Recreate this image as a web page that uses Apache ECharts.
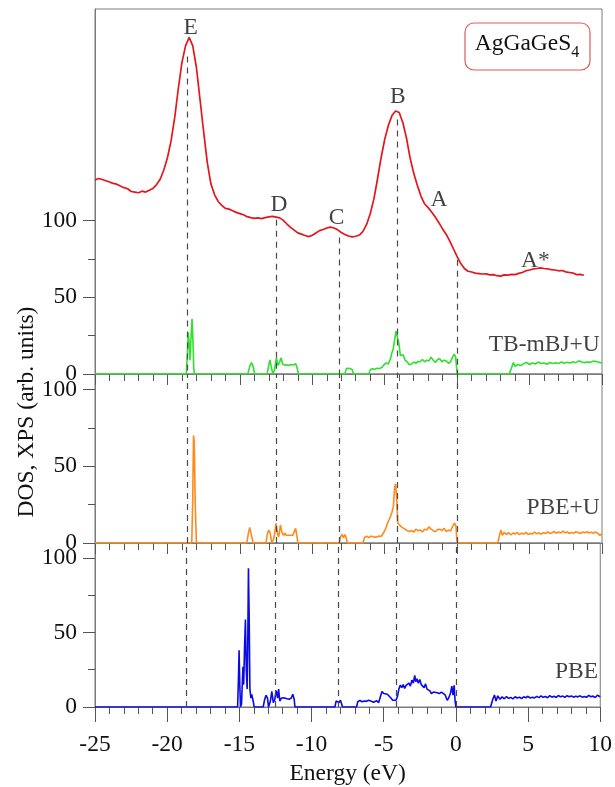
<!DOCTYPE html>
<html>
<head>
<meta charset="utf-8">
<title>AgGaGeS4 DOS and XPS</title>
<script src="https://cdn.jsdelivr.net/npm/echarts@6.0.0/dist/echarts.min.js"></script>
<style>
  html, body { margin: 0; padding: 0; background: #ffffff; }
  #chart { width: 615px; height: 787px; }
</style>
</head>
<body>
<div id="chart"></div>
<script>
// ---- Data ----------------------------------------------------------------
// Experimental XPS spectrum, [energy eV, intensity]
var xps = [
  [-25,126.5],[-24.75,127.5],[-24.5,126.8],[-24.25,126],[-24,125.2],[-23.75,124.3],[-23.5,123.8],[-23.25,122.6],
  [-23,121.5],[-22.75,120.8],[-22.5,119],[-22.25,118.6],[-22,118.2],[-21.75,119.2],[-21.5,118.6],[-21.25,119.8],
  [-21,121],[-20.75,123.5],[-20.5,127],[-20.25,133],[-20,141],[-19.75,152],[-19.5,167],[-19.25,186],
  [-19,203],[-18.75,214],[-18.5,219.5],[-18.25,214],[-18,200],[-17.75,179],[-17.5,158],[-17.25,138],
  [-17,124],[-16.75,117],[-16.5,112.5],[-16.25,110],[-16,108],[-15.75,107.5],[-15.5,106.5],[-15.25,105.4],
  [-15,104.6],[-14.75,103.8],[-14.5,102.6],[-14.25,102],[-14,101.5],[-13.75,101.8],[-13.5,101.3],[-13.25,102],
  [-13,102.4],[-12.75,102.8],[-12.5,102.3],[-12.25,101.8],[-12,100.2],[-11.75,97.8],[-11.5,95.6],[-11.25,93.8],
  [-11,92],[-10.75,91.2],[-10.5,90.3],[-10.25,89.6],[-10,90.5],[-9.75,92],[-9.5,93.5],[-9.25,94.2],
  [-9,95.2],[-8.75,95.8],[-8.5,95.2],[-8.25,94],[-8,92.3],[-7.75,91],[-7.5,90],[-7.25,89.4],
  [-7,89.8],[-6.75,90.6],[-6.5,93],[-6.25,97.5],[-6,104.5],[-5.75,114],[-5.5,127],[-5.25,141],
  [-5,153],[-4.75,162],[-4.5,168.5],[-4.25,171.5],[-4,170.5],[-3.75,164],[-3.5,154],[-3.25,141],
  [-3,131],[-2.75,123],[-2.5,116],[-2.25,111],[-2,108.5],[-1.75,105.5],[-1.5,102.2],[-1.25,98.5],
  [-1,94.5],[-0.75,91],[-0.5,86.5],[-0.25,81.5],[0,76.5],[0.25,72],[0.5,68.8],[0.75,67],
  [1,66.5],[1.25,65.8],[1.5,65.5],[1.75,65.2],[2,65.3],[2.25,64.6],[2.5,64.8],[2.75,64.1],
  [3,63.8],[3.25,64.6],[3.5,64.5],[3.75,65],[4,64.8],[4.25,65.6],[4.5,66.2],[4.75,67.3],
  [5,67.8],[5.25,68.5],[5.5,68.8],[5.75,69.2],[6,68.8],[6.25,68.6],[6.5,68],[6.75,67.8],
  [7,67.3],[7.25,67.5],[7.5,66.6],[7.75,66.2],[8,65.8],[8.25,64.8],[8.5,65],[8.75,64.4]
];

// Total DOS, TB-mBJ+U
var dosMbj = [
  [-25,0],[-18.7,0],[-18.62,14],[-18.56,27],[-18.5,20],[-18.45,9],[-18.38,22],[-18.3,36],[-18.24,22],[-18.18,3],[-18.12,0],
  [-14.45,0],[-14.32,5],[-14.2,7.5],[-14.08,5],[-13.98,0],
  [-13.12,0],[-13.0,6],[-12.92,9.2],[-12.82,4],[-12.72,0],[-12.6,3],[-12.48,10.5],[-12.36,5.5],[-12.25,8],[-12.15,10.5],
  [-12.05,6.5],[-11.9,5.8],[-11.75,6],[-11.6,5.5],[-11.45,6.2],[-11.3,5.8],[-11.15,6.8],[-11.05,4],[-10.95,0],
  [-7.75,0],[-7.65,3.5],[-7.55,4.6],[-7.45,3.8],[-7.35,4.5],[-7.25,3],[-7.15,0],
  [-6.1,0],[-6.0,2.8],[-5.85,3.5],[-5.7,3],[-5.55,3.8],[-5.4,3.5],[-5.2,4.2],[-5.05,6],[-4.9,7.2],[-4.75,6.5],[-4.6,10],
  [-4.5,14],[-4.42,16],[-4.32,22],[-4.22,28],[-4.12,28.5],[-4.02,20],[-3.92,12],[-3.82,11.5],[-3.72,12.5],[-3.6,9],
  [-3.45,8],[-3.3,6],[-3.15,6.5],[-3.0,7.8],[-2.85,7],[-2.7,8.2],[-2.55,8],[-2.4,9.5],[-2.25,8],[-2.1,9],[-1.95,8.5],
  [-1.8,11],[-1.65,9],[-1.5,7.5],[-1.35,9.5],[-1.2,10],[-1.05,8],[-0.9,9],[-0.75,8.5],[-0.6,7],[-0.45,8],[-0.32,11],
  [-0.2,13],[-0.1,11],[-0.02,2],[0,0],
  [3.6,0],[3.75,4],[3.88,7.5],[4.0,5],[4.2,6.2],[4.4,5.5],[4.6,6.8],[4.8,7.5],[5.0,6.2],[5.2,7.2],[5.4,6.5],[5.6,7.8],
  [5.8,6.8],[6.0,7.2],[6.2,6.4],[6.4,7.5],[6.6,6.8],[6.8,7.4],[7.0,6.9],[7.2,7.8],[7.4,7.0],[7.6,7.6],[7.8,7.2],
  [8.0,8.0],[8.2,7.4],[8.4,8.6],[8.6,7.8],[8.8,7.4],[9.0,7.8],[9.2,7.6],[9.4,8.4],[9.6,8.2],[9.8,7.6],[10,7.2]
];

// Total DOS, PBE+U
var dosPbeU = [
  [-25,0],[-18.32,0],[-18.25,30],[-18.2,70],[-18.15,66],[-18.08,25],[-18.0,0],
  [-14.52,0],[-14.42,6],[-14.32,10.2],[-14.24,9],[-14.15,3],[-14.08,0],
  [-13.2,0],[-13.1,6],[-13.0,8.4],[-12.9,6],[-12.8,0],[-12.65,3],[-12.5,12.8],[-12.4,6],[-12.32,4],[-12.2,11.7],
  [-12.1,7],[-11.98,5],[-11.9,6.5],[-11.8,5],[-11.68,5.5],[-11.55,5],[-11.45,6],[-11.35,5],[-11.22,6],[-11.15,9.5],
  [-11.05,4],[-11.0,0],
  [-8.15,0],[-8.05,4],[-7.95,5.5],[-7.85,3.5],[-7.75,5.5],[-7.65,3],[-7.58,0],
  [-6.5,0],[-6.4,3.5],[-6.25,4.5],[-6.1,3.5],[-5.95,4.5],[-5.8,4],[-5.6,3.8],[-5.4,4.5],[-5.25,4.2],[-5.1,6.3],
  [-4.95,9],[-4.8,13],[-4.65,16],[-4.5,20],[-4.4,24],[-4.32,36],[-4.25,38.5],[-4.18,30],[-4.1,13],[-3.98,12],
  [-3.85,10.5],[-3.72,11],[-3.6,9],[-3.45,8],[-3.3,7.5],[-3.15,8.2],[-3.0,7],[-2.85,9],[-2.7,8],[-2.55,8.5],
  [-2.4,7.2],[-2.25,9],[-2.1,8.5],[-1.95,10.5],[-1.8,9],[-1.65,8],[-1.5,7.3],[-1.35,8.8],[-1.2,9],[-1.05,8],
  [-0.9,9.5],[-0.75,7.5],[-0.6,8.4],[-0.45,7.8],[-0.3,11],[-0.18,13],[-0.08,11],[-0.02,2],[0,0],
  [2.8,0],[2.92,5],[3.02,8.4],[3.12,5],[3.25,7],[3.4,5.5],[3.55,6.8],[3.7,5.2],[3.85,6.5],[4.0,5.8],[4.15,7],
  [4.3,5.4],[4.45,6.4],[4.6,5.8],[4.75,6.9],[4.9,5.6],[5.05,6.2],[5.2,5.9],[5.35,7.1],[5.5,6],[5.65,6.6],[5.8,5.7],
  [5.95,6.8],[6.1,6.1],[6.25,7.3],[6.4,6.2],[6.55,6.7],[6.7,7.5],[6.85,6.4],[7.0,7.1],[7.15,6.5],[7.3,7.8],[7.45,6.6],
  [7.6,7.2],[7.75,6.2],[7.9,6.9],[8.05,6.4],[8.2,7.3],[8.35,6.8],[8.5,6.2],[8.65,7.1],[8.8,6.6],[8.95,7.4],[9.1,6.5],
  [9.25,7],[9.4,6.3],[9.55,7.2],[9.7,6.4],[9.85,5],[10,6]
];

// Total DOS, PBE
var dosPbe = [
  [-25,0],[-15.12,0],[-15.06,20],[-15.02,38],[-14.97,15],[-14.92,0],[-14.85,2],[-14.75,27],[-14.7,15],[-14.64,40],
  [-14.58,58.6],[-14.52,25],[-14.46,12],[-14.42,40],[-14.37,93],[-14.32,60],[-14.27,12],[-14.2,6],[-14.14,8.5],
  [-14.08,5.5],[-14.02,3],[-13.98,0],
  [-13.35,0],[-13.25,5],[-13.15,7.8],[-13.05,6],[-12.98,0],[-12.85,4],[-12.75,10.4],[-12.65,3],[-12.55,5],[-12.45,11],
  [-12.35,6],[-12.28,12],[-12.2,4],[-12.1,5.8],[-11.95,6.2],[-11.85,5],[-11.7,5.5],[-11.55,5.2],[-11.4,6],[-11.3,8.5],
  [-11.2,5],[-11.15,0],
  [-8.38,0],[-8.3,4],[-8.2,5.2],[-8.1,3],[-8.0,4.5],[-7.9,5.5],[-7.85,0],
  [-6.88,0],[-6.8,3.5],[-6.65,4.5],[-6.5,3.5],[-6.35,4],[-6.2,3.8],[-6.05,4.5],[-5.9,4],[-5.7,3.2],[-5.5,4.2],
  [-5.35,3],[-5.22,2.4],[-5.12,10.4],[-5.0,9],[-4.88,8],[-4.75,8.6],[-4.64,7.8],[-4.5,6],[-4.38,4.5],[-4.25,5.8],
  [-4.15,4.5],[-4.05,7],[-3.95,12],[-3.85,14.7],[-3.75,13],[-3.65,15],[-3.55,12.5],[-3.45,14.5],[-3.35,13.5],
  [-3.25,16],[-3.15,14],[-3.05,18],[-2.95,16],[-2.85,21.2],[-2.78,17],[-2.7,19],[-2.6,16],[-2.5,18.5],[-2.4,15],
  [-2.3,16],[-2.2,13],[-2.1,15.5],[-2.0,12],[-1.9,11],[-1.8,10.8],[-1.7,9],[-1.55,10],[-1.42,8.7],[-1.3,9.5],
  [-1.15,9],[-1.0,10],[-0.88,8.7],[-0.75,8.2],[-0.6,4.5],[-0.5,6],[-0.38,9],[-0.28,14],[-0.2,8],[-0.12,14.5],
  [-0.06,4.5],[0,0],
  [2.4,0],[2.55,5],[2.67,8],[2.78,4],[2.9,7.5],[3.05,5.2],[3.2,6.8],[3.35,5.5],[3.5,7],[3.65,5.8],[3.8,6.4],
  [3.95,5.4],[4.1,6.9],[4.25,6],[4.4,6.6],[4.55,5.7],[4.7,6.8],[4.85,6.2],[5.0,7.2],[5.15,6],[5.3,6.6],[5.45,6.1],
  [5.6,7.1],[5.75,6.3],[5.9,7.4],[6.05,6.5],[6.2,7],[6.35,6.2],[6.5,7.6],[6.65,6.6],[6.8,7.2],[6.95,6.4],[7.1,7.7],
  [7.25,6.8],[7.4,7.3],[7.55,6.5],[7.7,7.6],[7.85,6.9],[8.0,7.4],[8.15,6.6],[8.3,7.2],[8.45,6.8],[8.6,7.5],
  [8.75,6.6],[8.9,7.1],[9.05,6.5],[9.2,7.8],[9.35,6.9],[9.5,7.3],[9.65,6.4],[9.8,7.9],[9.9,6.6],[10,6.9]
];

// Peak markers on the XPS curve: dashed guides from the curve down through all panels
var peakNames = ['E', 'D', 'C', 'B', 'A', 'A*'];
var peakLabelX = [-18.4, -12.3, -8.33, -4.1, -1.25, 5.4];
var peakLabelY = [226, 110.5, 102, 180.5, 113.5, 74];
var guideX = [-18.65, -12.5, -8.15, -4.15, 0];
var guideTop = [207, 100.6, 89, 166, 74.5];

// Method captions for each panel
var methodNames = ['TB-mBJ+U', 'PBE+U', 'PBE'];
var methodY = [19, 22.7, 23.4];

var energyTicks = [-25, -20, -15, -10, -5, 0, 5, 10];
var yMajor = [0, 50, 100];
var yMinor = [25, 75];
var panelMax = [238, 110, 110];

// ---- Chart ---------------------------------------------------------------
var FONT = 'Liberation Serif, Times New Roman, serif';
var FS = 23.5;
var AXIS = '#7a7a7a';
var TICK = '#555555';
var chart = echarts.init(document.getElementById('chart'), null, { renderer: 'canvas' });

var grids = [
  { left: 95, right: 13, top: 9, height: 365 },
  { left: 95, right: 13, top: 374, height: 169 },
  { left: 95, right: 13, top: 543, height: 169 }
].map(function (g) {
  return Object.assign({ show: true, borderColor: AXIS, borderWidth: 1, backgroundColor: 'transparent' }, g);
});

var xAxes = [0, 1, 2].map(function (i) {
  var last = i === 2;
  return {
    type: 'value', gridIndex: i, position: 'bottom',
    min: energyTicks[0], max: energyTicks[energyTicks.length - 1], interval: 5,
    name: last ? 'Energy (eV)' : '', nameLocation: 'middle', nameGap: 55,
    nameTextStyle: { fontFamily: FONT, fontSize: FS, color: '#111' },
    axisLine: { show: true, onZero: false, lineStyle: { color: AXIS, width: 1 } },
    axisTick: { show: true, inside: false, length: last ? 15 : 11, lineStyle: { color: TICK } },
    minorTick: { show: true, splitNumber: 5, length: 7, lineStyle: { color: TICK } },
    splitLine: { show: false },
    axisLabel: { show: last, fontFamily: FONT, fontSize: FS, color: '#111', margin: 26 }
  };
});

var yAxes = [];
[0, 1, 2].forEach(function (i) {
  yAxes.push({
    type: 'value', gridIndex: i, position: 'left', min: 0, max: panelMax[i],
    axisLine: { show: true, onZero: false, lineStyle: { color: AXIS, width: 1 } },
    axisTick: { show: true, customValues: yMajor, length: 12, lineStyle: { color: TICK } },
    axisLabel: { show: true, customValues: yMajor, fontFamily: FONT, fontSize: FS, color: '#111', margin: 18 },
    splitLine: { show: false }
  });
  yAxes.push({
    type: 'value', gridIndex: i, position: 'left', offset: 0, min: 0, max: panelMax[i],
    axisLine: { show: false, onZero: false },
    axisTick: { show: true, customValues: yMinor, length: 7, lineStyle: { color: TICK } },
    axisLabel: { show: false },
    splitLine: { show: false }
  });
});

var dashStyle = { type: [6, 5], color: '#4a4a4a', width: 1.2 };

function dosSeries(data, color, panel, guides) {
  return {
    type: 'line', xAxisIndex: panel, yAxisIndex: panel * 2, data: data,
    showSymbol: false, smooth: false, z: 3,
    lineStyle: { color: color, width: 1.6 },
    markLine: {
      silent: true, symbol: ['none', 'none'], label: { show: false },
      lineStyle: dashStyle, animation: false, data: guides
    }
  };
}

var topGuides = guideX.map(function (x, i) {
  return [{ coord: [x, guideTop[i]] }, { coord: [x, 0] }];
});
var fullGuides = guideX.map(function (x) { return { xAxis: x }; });

var series = [
  {
    type: 'line', xAxisIndex: 0, yAxisIndex: 0, data: xps, showSymbol: false, z: 4,
    lineStyle: { color: '#e3161b', width: 1.7 }
  },
  dosSeries(dosMbj, '#2fe02f', 0, topGuides),
  dosSeries(dosPbeU, '#ff8a1c', 1, fullGuides),
  dosSeries(dosPbe, '#0a0ae6', 2, fullGuides),
  {
    type: 'scatter', xAxisIndex: 0, yAxisIndex: 0, symbolSize: 0, silent: true,
    data: peakNames.map(function (n, i) { return { value: [peakLabelX[i], peakLabelY[i]], name: n }; }),
    label: {
      show: true, position: 'inside', formatter: '{b}',
      fontFamily: FONT, fontSize: FS, color: '#111'
    }
  }
];

methodNames.forEach(function (n, i) {
  series.push({
    type: 'scatter', xAxisIndex: i, yAxisIndex: i * 2, symbolSize: 0, silent: true,
    data: [{ value: [9.85, methodY[i]], name: n }],
    label: {
      show: true, position: 'left', distance: 0, formatter: '{b}',
      fontFamily: FONT, fontSize: FS, color: '#111'
    }
  });
});

chart.setOption({
  animation: false,
  backgroundColor: '#ffffff',
  grid: grids,
  xAxis: xAxes,
  yAxis: yAxes,
  series: series,
  graphic: [
    {
      type: 'text', x: 27, y: 412, rotation: Math.PI / 2,
      style: {
        text: 'DOS, XPS (arb. units)', fill: '#111',
        font: FS + 'px ' + FONT, textAlign: 'center', textVerticalAlign: 'middle'
      }
    },
    {
      type: 'rect', shape: { x: 465, y: 23, width: 125, height: 47, r: 9 },
      style: { fill: '#ffffff', stroke: '#e05a5a', lineWidth: 1.2 }, z: 10
    },
    {
      type: 'text', x: 527, y: 47, z: 11,
      style: {
        text: '{m|AgGaGeS}{s|4}', textAlign: 'center', textVerticalAlign: 'middle',
        rich: {
          m: { fontFamily: FONT, fontSize: FS, fill: '#111', lineHeight: 27, verticalAlign: 'bottom', padding: [0, 0, 5, 0] },
          s: { fontFamily: FONT, fontSize: 16, fill: '#111', lineHeight: 18, verticalAlign: 'bottom' }
        }
      }
    }
  ]
});
</script>
</body>
</html>
